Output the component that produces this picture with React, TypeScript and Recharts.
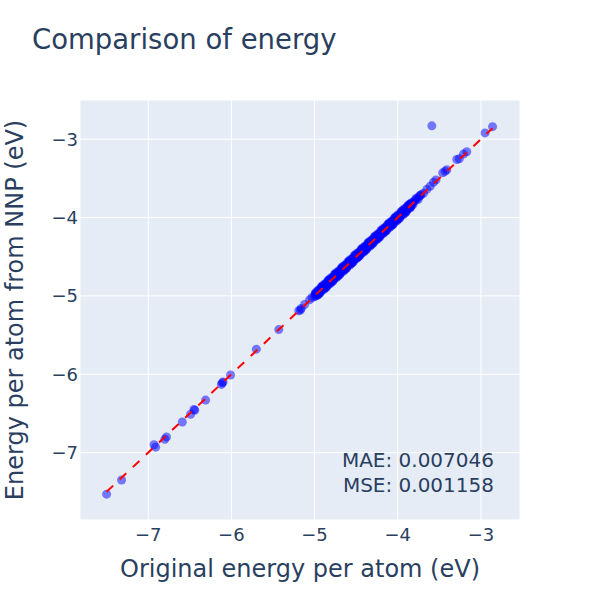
import { CartesianGrid, Scatter, ScatterChart, XAxis, YAxis } from "recharts";

// energies per atom (eV): DFT reference vs. neural network potential
const originalEnergy = [
    -7.50, -7.32, -6.93, -6.91, -6.80, -6.78, -6.59, -6.49, -6.45, -6.44, -6.31, -6.12, -6.10, -6.11, -6.01,
    -5.70, -5.43, -5.19, -5.16, -5.17, -5.12, -5.06, -5.03,
    -5.00, -4.99, -4.98, -4.97, -4.96, -4.95, -4.94, -4.93, -4.92, -4.91, -4.90, -4.89, -4.88, -4.87, -4.86,
    -4.85, -4.84, -4.83, -4.82, -4.81, -4.80, -4.79, -4.78, -4.77, -4.76, -4.75, -4.74, -4.73, -4.72, -4.71,
    -4.70, -4.69, -4.68, -4.67, -4.66, -4.65, -4.64, -4.63, -4.62, -4.61, -4.60, -4.59, -4.58, -4.57, -4.56,
    -4.55, -4.54, -4.53, -4.52, -4.51, -4.50, -4.49, -4.48, -4.47, -4.46, -4.45, -4.44, -4.43, -4.42, -4.41,
    -4.40, -4.39, -4.38, -4.37, -4.36, -4.35, -4.34, -4.33, -4.32, -4.31, -4.30, -4.29, -4.28, -4.27, -4.26,
    -4.25, -4.24, -4.23, -4.22, -4.21, -4.20, -4.19, -4.18, -4.17, -4.16, -4.15, -4.14, -4.13, -4.12, -4.11,
    -4.10, -4.09, -4.08, -4.07, -4.06, -4.05, -4.04, -4.03, -4.02, -4.01, -4.00, -3.99, -3.98, -3.97, -3.96,
    -3.95, -3.94, -3.93, -3.92, -3.91, -3.90, -3.89, -3.88, -3.87, -3.86, -3.85, -3.84, -3.83, -3.81, -3.79,
    -3.77, -3.74, -3.72, -3.69,
    -4.995, -4.975, -4.955, -4.935, -4.915, -4.895, -4.875, -4.855, -4.835, -4.815, -4.795, -4.775, -4.755,
    -4.735, -4.715, -4.695, -4.675, -4.655, -4.635, -4.615, -4.595, -4.575, -4.555, -4.535, -4.515, -4.495,
    -4.475, -4.455, -4.435, -4.415, -4.395, -4.375, -4.355, -4.335, -4.315, -4.295, -4.275, -4.255, -4.235,
    -4.215, -4.195, -4.175, -4.155, -4.135, -4.115, -4.095, -4.075, -4.055, -4.035, -4.015, -3.995, -3.975,
    -3.955, -3.935, -3.915, -3.895, -3.875, -3.855, -3.835, -3.815, -3.78, -3.755, -3.73,
    -4.985, -4.965, -4.945, -4.925, -4.905, -4.885, -4.865, -4.845, -4.825, -4.805, -4.785, -4.765, -4.745,
    -4.725, -4.705, -4.685, -4.665, -4.645, -4.625, -4.605, -4.585, -4.565, -4.545, -4.525, -4.505, -4.485,
    -4.465, -4.445, -4.425, -4.405, -4.385, -4.365, -4.345, -4.325, -4.305, -4.285, -4.265, -4.245, -4.225,
    -4.205, -4.185, -4.165, -4.145, -4.125, -4.105, -4.085, -4.065, -4.045, -4.025, -4.005, -3.985, -3.965,
    -3.945, -3.925, -3.905, -3.885, -3.865, -3.845, -3.825,
    -4.98, -4.94, -4.90, -4.86, -4.82, -4.78, -4.74, -4.70, -4.66, -4.62, -4.58, -4.54, -4.50, -4.46, -4.42,
    -4.38, -4.34, -4.30, -4.26, -4.22, -4.18, -4.14, -4.10, -4.06, -4.02, -3.98, -3.94, -3.90, -3.86,
    -4.96, -4.92, -4.88, -4.84, -4.80, -4.76, -4.72, -4.68, -4.64, -4.60, -4.56, -4.52, -4.48, -4.44, -4.40,
    -4.36, -4.32, -4.28, -4.24, -4.20, -4.16, -4.12, -4.08, -4.04, -4.00, -3.96, -3.92, -3.88, -3.84,
    -3.65, -3.61, -3.57, -3.54, -3.46, -3.43, -3.41, -3.29, -3.26, -3.21, -3.17, -2.95, -2.86, -3.59,
];
const nnpEnergy = [
    -7.53, -7.35, -6.90, -6.93, -6.83, -6.80, -6.61, -6.51, -6.45, -6.46, -6.33, -6.13, -6.10, -6.11, -6.01,
    -5.68, -5.43, -5.19, -5.16, -5.18, -5.11, -5.05, -5.02,
    -5.01, -4.97, -5.00, -4.96, -4.98, -4.93, -4.95, -4.92, -4.94, -4.89, -4.91, -4.88, -4.90, -4.85, -4.87,
    -4.84, -4.86, -4.81, -4.83, -4.80, -4.82, -4.77, -4.79, -4.76, -4.78, -4.73, -4.75, -4.72, -4.74, -4.69,
    -4.71, -4.68, -4.70, -4.65, -4.67, -4.64, -4.66, -4.61, -4.63, -4.60, -4.62, -4.57, -4.59, -4.56, -4.58,
    -4.53, -4.55, -4.52, -4.54, -4.49, -4.51, -4.48, -4.50, -4.45, -4.47, -4.44, -4.46, -4.41, -4.43, -4.40,
    -4.42, -4.37, -4.39, -4.36, -4.38, -4.33, -4.35, -4.32, -4.34, -4.29, -4.31, -4.28, -4.30, -4.25, -4.27,
    -4.24, -4.26, -4.21, -4.23, -4.20, -4.22, -4.17, -4.19, -4.16, -4.18, -4.13, -4.15, -4.12, -4.14, -4.09,
    -4.11, -4.08, -4.10, -4.05, -4.07, -4.04, -4.06, -4.01, -4.03, -4.00, -4.02, -3.97, -3.99, -3.96, -3.97,
    -3.94, -3.95, -3.91, -3.93, -3.90, -3.91, -3.87, -3.89, -3.86, -3.87, -3.83, -3.85, -3.82, -3.80, -3.78,
    -3.76, -3.73, -3.71, -3.69,
    -4.975, -4.99, -4.925, -4.96, -4.885, -4.92, -4.845, -4.885, -4.805, -4.845, -4.765, -4.805, -4.725,
    -4.765, -4.685, -4.725, -4.645, -4.685, -4.605, -4.645, -4.565, -4.605, -4.525, -4.565, -4.485, -4.525,
    -4.445, -4.485, -4.405, -4.445, -4.365, -4.405, -4.325, -4.365, -4.285, -4.325, -4.245, -4.285, -4.205,
    -4.245, -4.165, -4.205, -4.125, -4.165, -4.085, -4.125, -4.045, -4.085, -4.005, -4.045, -3.965, -4.005,
    -3.925, -3.965, -3.885, -3.92, -3.85, -3.88, -3.81, -3.83, -3.755, -3.77, -3.715,
    -4.98, -4.97, -4.94, -4.93, -4.90, -4.89, -4.86, -4.85, -4.82, -4.81, -4.78, -4.77, -4.74,
    -4.73, -4.70, -4.69, -4.66, -4.65, -4.62, -4.61, -4.58, -4.57, -4.54, -4.53, -4.50, -4.49,
    -4.46, -4.45, -4.42, -4.41, -4.38, -4.37, -4.34, -4.33, -4.30, -4.29, -4.26, -4.25, -4.22,
    -4.21, -4.18, -4.17, -4.14, -4.13, -4.10, -4.09, -4.06, -4.05, -4.02, -4.01, -3.98, -3.97,
    -3.94, -3.92, -3.90, -3.88, -3.86, -3.84, -3.82,
    -4.95, -4.97, -4.865, -4.89, -4.785, -4.81, -4.705, -4.73, -4.625, -4.65, -4.545, -4.57, -4.465, -4.49, -4.385,
    -4.41, -4.305, -4.33, -4.225, -4.25, -4.145, -4.17, -4.065, -4.09, -3.985, -4.01, -3.905, -3.93, -3.83,
    -4.99, -4.885, -4.91, -4.805, -4.83, -4.725, -4.75, -4.645, -4.67, -4.565, -4.59, -4.485, -4.51, -4.405, -4.43,
    -4.325, -4.35, -4.245, -4.27, -4.165, -4.19, -4.085, -4.11, -4.005, -4.03, -3.925, -3.95, -3.85, -3.865,
    -3.64, -3.60, -3.55, -3.52, -3.43, -3.41, -3.39, -3.26, -3.25, -3.19, -3.16, -2.92, -2.84, -2.83,
];
const axisTicks = [-7, -6, -5, -4, -3];
const metricLines = ["MAE: 0.007046", "MSE: 0.001158"];

const points = originalEnergy.map((x, i) => ({ x, y: nnpEnergy[i] }));
const lo = Math.min(...originalEnergy);
const hi = Math.max(...originalEnergy);
const diagonal = [{ x: lo, y: lo }, { x: hi, y: hi }];

const FONT = "'DejaVu Sans', Verdana, sans-serif";
const INK = "#2a3f5f";
const minus = (v: number) => String(v).replace("-", "\u2212");

const Dot = (props: any) => (
    <circle cx={props.cx} cy={props.cy} r={4.5} fill="#0000ff" fillOpacity={0.5} />
);
const NoDot = () => <g />;

const XTitle = ({ viewBox }: any) => (
    <text x={viewBox.x + viewBox.width / 2} y={viewBox.y + 57} textAnchor="middle" fill={INK} fontSize={24} fontFamily={FONT}>
        Original energy per atom (eV)
    </text>
);

const YTitle = ({ viewBox }: any) => {
    const cx = viewBox.x + 23;
    const cy = viewBox.y + viewBox.height / 2;
    return (
        <text x={cx} y={cy} transform={`rotate(-90 ${cx} ${cy})`} textAnchor="middle" fill={INK} fontSize={24} fontFamily={FONT}>
            Energy per atom from NNP (eV)
        </text>
    );
};

export default function App() {
    return (
        <div style={{ position: "absolute", left: 0, top: 0, width: 600, height: 600, background: "#fff" }}>
            <ScatterChart width={600} height={600} margin={{ top: 100, right: 80, bottom: 0, left: 0 }}>
                <CartesianGrid fill="#E5ECF6" stroke="#ffffff" strokeWidth={1} />
                <XAxis
                    type="number"
                    dataKey="x"
                    domain={[-7.82, -2.53]}
                    ticks={axisTicks}
                    allowDataOverflow
                    height={80}
                    axisLine={false}
                    tickLine={false}
                    tickSize={0}
                    tickMargin={8}
                    tickFormatter={minus}
                    tick={{ fill: INK, fontSize: 18, fontFamily: FONT }}
                    label={<XTitle />}
                />
                <YAxis
                    type="number"
                    dataKey="y"
                    domain={[-7.86, -2.5]}
                    ticks={axisTicks}
                    allowDataOverflow
                    width={80}
                    axisLine={false}
                    tickLine={false}
                    tickSize={0}
                    tickMargin={2}
                    tickFormatter={minus}
                    tick={{ fill: INK, fontSize: 18, fontFamily: FONT }}
                    label={<YTitle />}
                />
                <Scatter data={points} shape={<Dot />} isAnimationActive={false} />
                <Scatter
                    data={diagonal}
                    shape={<NoDot />}
                    line={{ stroke: "#ff0000", strokeWidth: 2, strokeDasharray: "9 9" }}
                    isAnimationActive={false}
                />
            </ScatterChart>
            <svg width={600} height={600} style={{ position: "absolute", left: 0, top: 0, pointerEvents: "none" }}>
                <text x={32} y={49} fill={INK} fontSize={27.5} fontFamily={FONT}>
                    Comparison of energy
                </text>
                {metricLines.map((line, i) => (
                    <text key={line} x={494} y={467 + i * 25} textAnchor="end" fill={INK} fontSize={20} fontFamily={FONT}>
                        {line}
                    </text>
                ))}
            </svg>
        </div>
    );
}
